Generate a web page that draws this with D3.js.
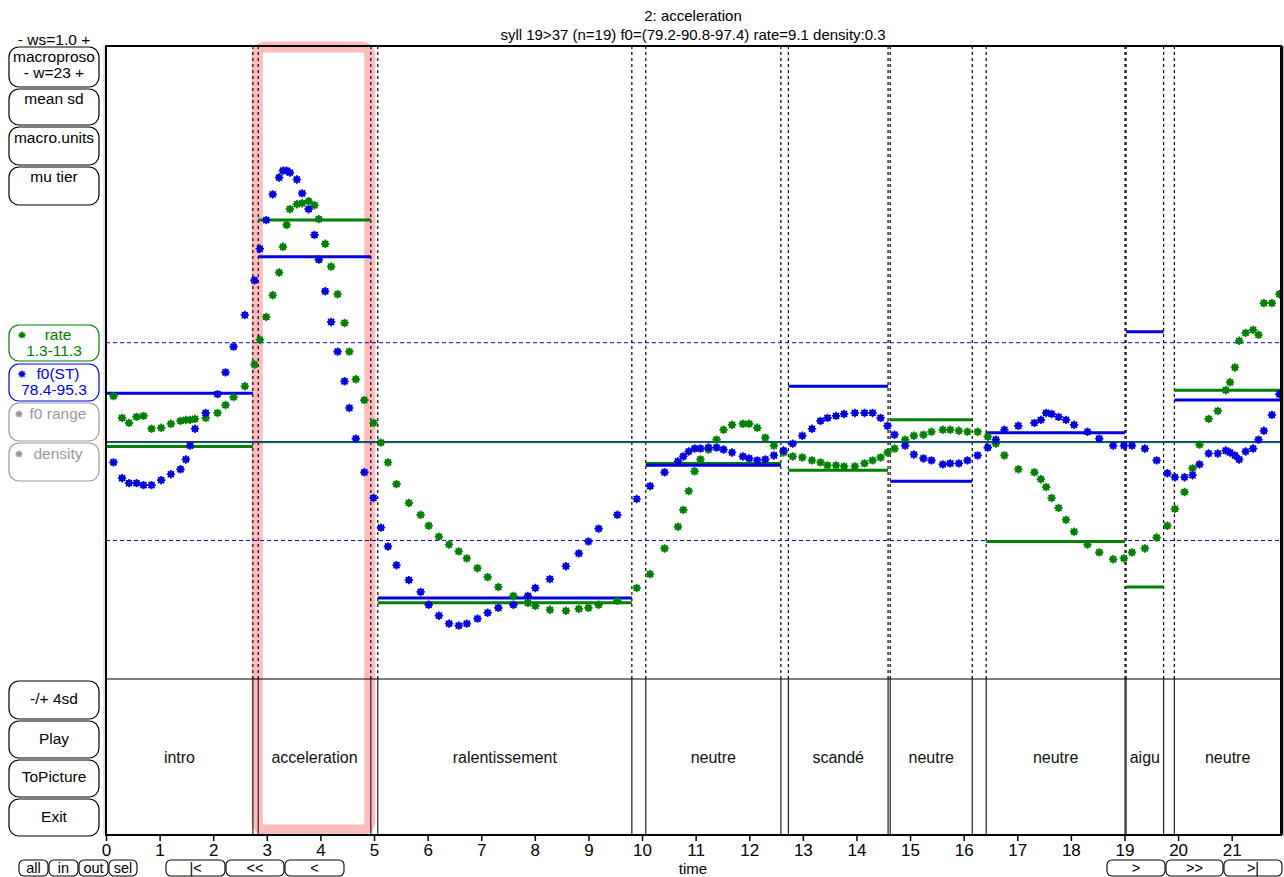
<!DOCTYPE html>
<html>
<head>
<meta charset="utf-8">
<script src="https://cdn.jsdelivr.net/npm/d3@7"></script>
<style>
  body { margin: 0; background: #fff; }
  svg { display: block; font-family: "Liberation Sans", Arial, sans-serif; }
</style>
</head>
<body>
<svg width="1284" height="877"></svg>
<script>
// syllable times (s) and smoothed values in sd units
var times = [0.14,0.30,0.43,0.57,0.70,0.85,1.03,1.21,1.39,1.49,1.57,1.66,1.86,2.08,2.23,2.38,2.59,2.77,
  2.87,2.99,3.11,3.23,3.30,3.37,3.43,3.56,3.66,3.78,3.89,3.97,4.09,4.20,4.32,4.45,4.54,4.66,4.82,4.99,
  5.13,5.26,5.42,5.65,5.87,6.02,6.21,6.40,6.58,6.73,6.93,7.12,7.32,7.60,7.87,8.01,8.28,8.58,8.82,9.00,9.19,9.54,9.90,
  10.15,10.42,10.67,10.77,10.87,10.98,11.09,11.24,11.39,11.52,11.68,11.88,12.00,12.15,12.30,12.46,12.64,
  12.81,12.99,13.17,13.33,13.46,13.62,13.77,13.97,14.15,14.30,14.45,14.58,
  14.71,14.91,15.07,15.25,15.40,15.61,15.75,15.91,16.07,16.26,
  16.45,16.60,16.76,17.02,17.32,17.44,17.54,17.64,17.77,17.91,18.06,18.31,18.53,18.79,18.99,
  19.14,19.38,19.60,19.80,19.94,20.12,20.27,20.40,20.57,20.74,20.89,20.97,21.06,21.14,21.26,21.40,21.50,21.60,21.75,21.89];

var f0 = [-0.21,-0.37,-0.42,-0.42,-0.44,-0.44,-0.39,-0.33,-0.28,-0.18,-0.04,0.13,0.29,0.48,0.70,0.96,1.28,1.63,
  1.95,2.24,2.50,2.67,2.74,2.74,2.72,2.65,2.51,2.35,2.09,1.84,1.52,1.21,0.91,0.61,0.34,0.03,-0.31,-0.57,
  -0.87,-1.06,-1.25,-1.40,-1.52,-1.65,-1.76,-1.84,-1.86,-1.84,-1.79,-1.73,-1.68,-1.65,-1.56,-1.48,-1.39,-1.26,-1.13,-1.01,-0.88,-0.74,-0.58,
  -0.45,-0.31,-0.20,-0.15,-0.10,-0.07,-0.07,-0.06,-0.06,-0.08,-0.11,-0.15,-0.17,-0.19,-0.18,-0.14,-0.09,
  -0.02,0.06,0.13,0.21,0.24,0.26,0.28,0.29,0.29,0.29,0.24,0.16,
  0.07,-0.04,-0.13,-0.17,-0.19,-0.23,-0.22,-0.22,-0.19,-0.14,
  -0.06,0.02,0.12,0.16,0.19,0.22,0.29,0.28,0.25,0.22,0.17,0.10,0.03,-0.04,-0.04,
  -0.04,-0.07,-0.19,-0.32,-0.36,-0.36,-0.34,-0.23,-0.12,-0.12,-0.09,-0.11,-0.14,-0.18,-0.10,-0.07,0.02,0.11,0.27,0.48];

var rate = [0.46,0.24,0.19,0.25,0.26,0.13,0.14,0.18,0.21,0.22,0.22,0.23,0.24,0.29,0.37,0.45,0.56,0.78,
  1.03,1.26,1.48,1.71,1.97,2.19,2.35,2.40,2.41,2.43,2.39,2.25,2.00,1.77,1.49,1.20,0.91,0.63,0.42,0.19,
  -0.01,-0.21,-0.43,-0.62,-0.74,-0.85,-0.96,-1.04,-1.11,-1.18,-1.28,-1.37,-1.47,-1.56,-1.63,-1.66,-1.70,-1.71,-1.69,-1.68,-1.65,-1.61,-1.48,
  -1.34,-1.08,-0.86,-0.69,-0.50,-0.30,-0.18,-0.08,0.02,0.12,0.17,0.18,0.18,0.14,0.04,-0.04,-0.11,
  -0.15,-0.16,-0.19,-0.21,-0.24,-0.24,-0.25,-0.25,-0.22,-0.19,-0.16,-0.11,
  -0.07,0.02,0.06,0.07,0.10,0.12,0.12,0.11,0.10,0.10,
  0.05,-0.02,-0.14,-0.28,-0.31,-0.38,-0.46,-0.57,-0.67,-0.79,-0.91,-1.04,-1.12,-1.19,-1.18,
  -1.12,-1.08,-0.97,-0.85,-0.68,-0.51,-0.27,-0.03,0.23,0.31,0.52,0.60,0.75,1.02,1.10,1.13,1.08,1.40,1.40,1.49];

// macro-units tier
var segLabels = ["intro", "acceleration", "ralentissement", "neutre", "scandé", "neutre", "neutre", "aigu", "neutre"];
var segStart = [0, 2.84, 5.07, 10.07, 12.73, 14.63, 16.42, 19.03, 19.93];
var segEnd   = [2.74, 4.94, 9.81, 12.59, 14.59, 16.16, 19.01, 19.73, 21.92];
var f0Mean   = [0.49, 1.87, -1.58, -0.24, 0.56, -0.40, 0.09, 1.11, 0.42];
var rateMean = [-0.05, 2.24, -1.63, -0.22, -0.29, 0.22, -1.01, -1.47, 0.52];
var selected = 1;

var xTicks = d3.range(0, 22);
var sdLines = [-1, 1];

var svg = d3.select("svg");
var pLeft = 106, pRight = 1281, pTop = 46, tierTop = 679, pBottom = 835;
var blue = "#0000e0", green = "#008000";

var x = d3.scaleLinear().domain([0, 21.92]).range([pLeft, pRight]);
var y = d3.scaleLinear().domain([-2.4, 4]).range([tierTop, pTop]);

// selection highlight
svg.append("rect")
    .attr("x", x(segStart[selected]) - 1)
    .attr("y", pTop + 1)
    .attr("width", x(segEnd[selected]) - x(segStart[selected]))
    .attr("height", pBottom - pTop - 6)
    .attr("rx", 8)
    .attr("fill", "none")
    .attr("stroke", "#ffbcbc")
    .attr("stroke-width", 11);

var bounds = [];
segStart.forEach(function (d, i) {
    if (d > 0) bounds.push(d);
    if (segEnd[i] < 21.9) bounds.push(segEnd[i]);
});

// dashed boundaries in the plot
svg.selectAll(".vb").data(bounds).enter().append("line")
    .attr("x1", function (d) { return x(d); })
    .attr("x2", function (d) { return x(d); })
    .attr("y1", pTop).attr("y2", tierTop)
    .attr("stroke", "#000")
    .attr("stroke-width", 1.2)
    .attr("stroke-dasharray", "3,3");

// solid boundaries in the tier
svg.selectAll(".tb").data(bounds).enter().append("line")
    .attr("x1", function (d) { return x(d); })
    .attr("x2", function (d) { return x(d); })
    .attr("y1", tierTop).attr("y2", pBottom)
    .attr("stroke", "#222")
    .attr("stroke-width", 1.2);

// +-1 sd
svg.selectAll(".sd").data(sdLines).enter().append("line")
    .attr("x1", pLeft).attr("x2", pRight)
    .attr("y1", function (d) { return y(d); })
    .attr("y2", function (d) { return y(d); })
    .attr("stroke", blue)
    .attr("stroke-width", 1)
    .attr("stroke-dasharray", "4,3");

// global mean
svg.append("line").attr("x1", pLeft).attr("x2", pRight)
    .attr("y1", y(0) + 1).attr("y2", y(0) + 1)
    .attr("stroke", green).attr("stroke-width", 1);
svg.append("line").attr("x1", pLeft).attr("x2", pRight)
    .attr("y1", y(0)).attr("y2", y(0))
    .attr("stroke", "#103c90").attr("stroke-width", 1.5);

// segment means
function meanLines(vals, col) {
    svg.selectAll(null).data(vals).enter().append("line")
        .attr("x1", function (d, i) { return x(segStart[i]); })
        .attr("x2", function (d, i) { return x(segEnd[i]); })
        .attr("y1", function (d) { return y(d); })
        .attr("y2", function (d) { return y(d); })
        .attr("stroke", col)
        .attr("stroke-width", 3);
}
meanLines(rateMean, green);
meanLines(f0Mean, blue);

var star = "M-4.2,0H4.2M0,-4.2V4.2M-3,-3L3,3M-3,3L3,-3";

function dots(vals, col) {
    var g = svg.append("g");
    var p = g.selectAll("g").data(vals).enter().append("g")
        .attr("transform", function (d, i) { return "translate(" + x(times[i]) + "," + y(d) + ")"; });
    p.append("circle").attr("r", 3.2).attr("fill", col);
    p.append("path").attr("d", star).attr("stroke", col).attr("stroke-width", 1.7);
}
dots(rate, green);
dots(f0, blue);

// tier labels
svg.selectAll(".tl").data(segLabels).enter().append("text")
    .attr("x", function (d, i) { return (x(segStart[i]) + x(segEnd[i])) / 2; })
    .attr("y", 763)
    .attr("text-anchor", "middle")
    .attr("font-size", 16)
    .attr("fill", "#111")
    .text(function (d) { return d; });

// frame
svg.append("line").attr("x1", pLeft).attr("x2", pRight).attr("y1", tierTop).attr("y2", tierTop)
    .attr("stroke", "#000").attr("stroke-width", 1.2);
svg.append("rect").attr("x", pLeft).attr("y", pTop).attr("width", pRight - pLeft).attr("height", pBottom - pTop)
    .attr("fill", "none").attr("stroke", "#000").attr("stroke-width", 2);
svg.append("line").attr("x1", pRight + 1).attr("x2", pRight + 1).attr("y1", pTop).attr("y2", pBottom)
    .attr("stroke", "#000").attr("stroke-width", 2);
svg.append("line").attr("x1", pRight + 3).attr("x2", pRight + 3).attr("y1", pTop).attr("y2", pBottom)
    .attr("stroke", "#bbb").attr("stroke-width", 2);
svg.append("line").attr("x1", pLeft - 2).attr("x2", pLeft - 2).attr("y1", pTop).attr("y2", pBottom)
    .attr("stroke", "#ccc").attr("stroke-width", 1);

// x axis
var ax = svg.append("g").attr("transform", "translate(0," + pBottom + ")")
    .call(d3.axisBottom(x).tickValues(xTicks).tickSize(6).tickSizeOuter(0).tickPadding(3));
ax.select(".domain").remove();
ax.selectAll(".tick line").attr("stroke", "#000").attr("stroke-width", 1.5);
ax.selectAll(".tick text").attr("font-size", 17).attr("font-family", "Liberation Sans, Arial, sans-serif").attr("fill", "#000");

svg.append("text").attr("x", 693).attr("y", 874).attr("text-anchor", "middle")
    .attr("font-size", 15).text("time");

// title
svg.append("text").attr("x", 693).attr("y", 21).attr("text-anchor", "middle")
    .attr("font-size", 15).text("2: acceleration");
svg.append("text").attr("x", 693).attr("y", 40).attr("text-anchor", "middle")
    .attr("font-size", 15).text("syll 19>37 (n=19) f0=(79.2-90.8-97.4) rate=9.1 density:0.3");

// left buttons
svg.append("text").attr("x", 54).attr("y", 45).attr("text-anchor", "middle")
    .attr("font-size", 15.5).text("- ws=1.0 +");

var buttons = [
    {lines: ["macroproso", "- w=23 +"], y0: 47, y1: 87, dy: 15, col: "#000"},
    {lines: ["mean sd"], y0: 89, y1: 125, dy: 15, col: "#000"},
    {lines: ["macro.units"], y0: 127, y1: 165, dy: 16, col: "#000"},
    {lines: ["mu tier"], y0: 167, y1: 205, dy: 15, col: "#000"},
    {lines: ["rate", "1.3-11.3"], y0: 325, y1: 361, dy: 15, col: green, mark: true},
    {lines: ["f0(ST)", "78.4-95.3"], y0: 364, y1: 401, dy: 15, col: blue, mark: true},
    {lines: ["f0 range"], y0: 403, y1: 441, dy: 16, col: "#999", mark: true},
    {lines: ["density"], y0: 443, y1: 481, dy: 16, col: "#999", mark: true},
    {lines: ["-/+ 4sd"], y0: 681, y1: 719, dy: 23, col: "#000"},
    {lines: ["Play"], y0: 721, y1: 758, dy: 23, col: "#000"},
    {lines: ["ToPicture"], y0: 760, y1: 797, dy: 22, col: "#000"},
    {lines: ["Exit"], y0: 799, y1: 836, dy: 23, col: "#000"}
];

buttons.forEach(function (b) {
    svg.append("rect").attr("x", 9).attr("y", b.y0).attr("width", 90).attr("height", b.y1 - b.y0)
        .attr("rx", 10).attr("fill", "#fff").attr("stroke", b.col).attr("stroke-width", 1.2);
    b.lines.forEach(function (t, j) {
        svg.append("text").attr("x", b.mark && j === 0 ? 58 : 54).attr("y", b.y0 + b.dy + j * 16)
            .attr("text-anchor", "middle").attr("font-size", 15.5).attr("fill", b.col).text(t);
    });
    if (b.mark) {
        var gy = b.y0 + b.dy - 5;
        var gx = b.lines[0].length > 6 ? 19 : 22;
        svg.append("circle").attr("cx", gx).attr("cy", gy).attr("r", 2.6).attr("fill", b.col);
        svg.append("path").attr("transform", "translate(" + gx + "," + gy + ") scale(0.85)")
            .attr("d", star).attr("stroke", b.col).attr("stroke-width", 1.5);
    }
});

// navigation buttons at the bottom
var navButtons = [
    {t: "all", x0: 19, x1: 48}, {t: "in", x0: 49, x1: 78}, {t: "out", x0: 79, x1: 108}, {t: "sel", x0: 109, x1: 137},
    {t: "|<", x0: 166, x1: 225}, {t: "<<", x0: 226, x1: 284}, {t: "<", x0: 285, x1: 344},
    {t: ">", x0: 1107, x1: 1165}, {t: ">>", x0: 1166, x1: 1223}, {t: ">|", x0: 1224, x1: 1282}
];
navButtons.forEach(function (b) {
    svg.append("rect").attr("x", b.x0).attr("y", 860).attr("width", b.x1 - b.x0).attr("height", 16)
        .attr("rx", 5).attr("fill", "#fff").attr("stroke", "#000").attr("stroke-width", 1.1);
    svg.append("text").attr("x", (b.x0 + b.x1) / 2).attr("y", 873).attr("text-anchor", "middle")
        .attr("font-size", 14.5).text(b.t);
});
</script>
</body>
</html>
